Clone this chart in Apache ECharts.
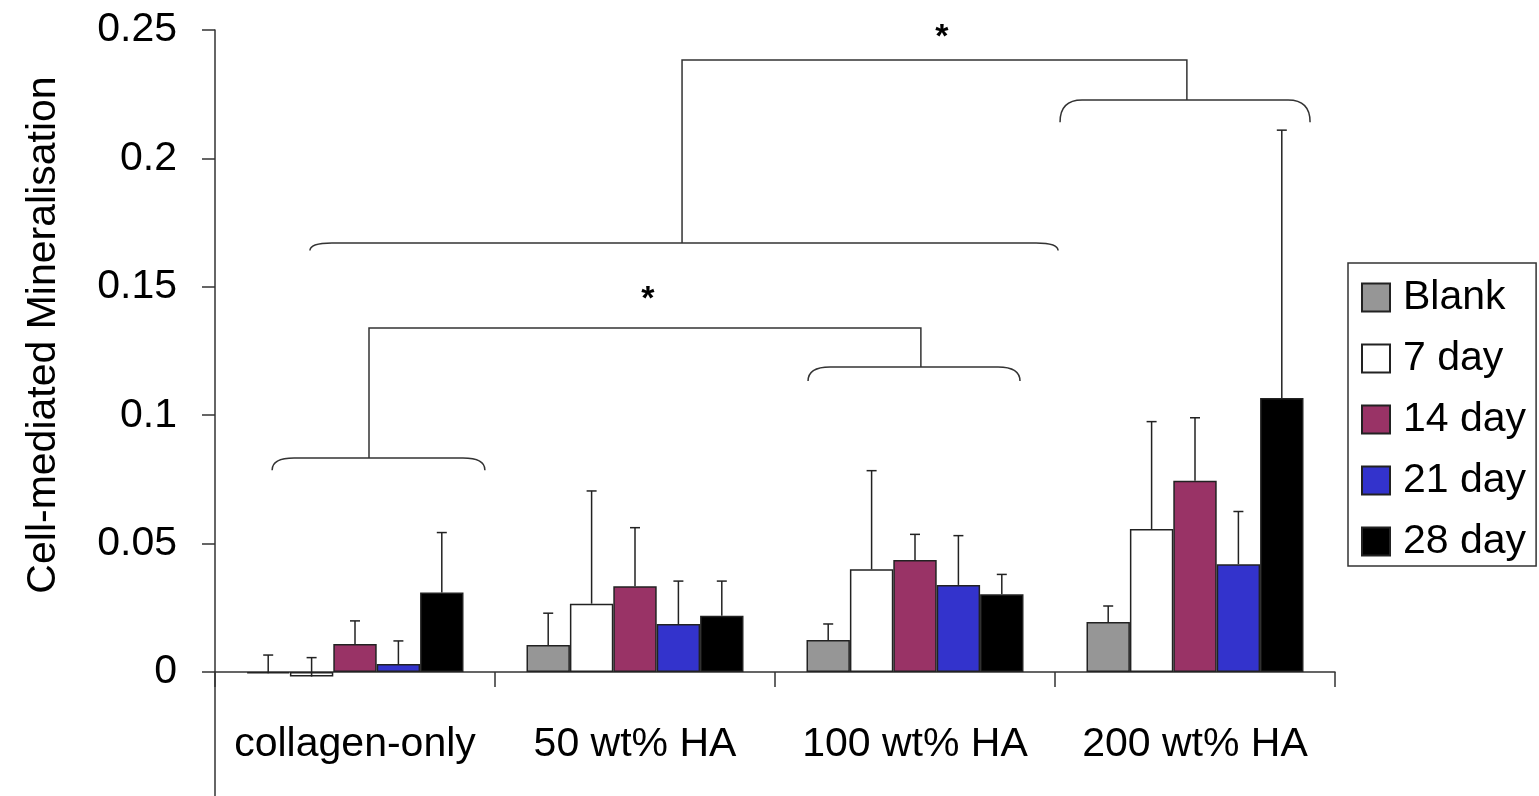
<!DOCTYPE html>
<html>
<head>
<meta charset="utf-8">
<script src="https://cdn.jsdelivr.net/npm/echarts@6/dist/echarts.min.js"></script>
<style>
  html, body { margin: 0; padding: 0; background: #fff; }
  #chart { width: 1539px; height: 796px; }
</style>
</head>
<body>
<div id="chart"></div>
<script>
// data
const categories = ['collagen-only', '50 wt% HA', '100 wt% HA', '200 wt% HA']
const seriesNames = ['Blank', '7 day', '14 day', '21 day', '28 day']
const blankValues = [-0.0005, 0.0105, 0.0125, 0.0195]
const day7Values = [-0.0018, 0.0266, 0.040, 0.0557]
const day14Values = [0.0109, 0.0334, 0.0436, 0.0745]
const day21Values = [0.0031, 0.0187, 0.0339, 0.042]
const day28Values = [0.031, 0.0219, 0.0303, 0.1067]
// upper error (stdev) of each bar
const blankErr = [0.0071, 0.0124, 0.0062, 0.0062]
const day7Err = [0.0074, 0.0439, 0.0384, 0.0418]
const day14Err = [0.009, 0.0228, 0.01, 0.0245]
const day21Err = [0.009, 0.0167, 0.0192, 0.0205]
const day28Err = [0.0233, 0.0135, 0.0077, 0.1043]

// significance brackets, in axis units (category index, value)
// [xStart, xEnd, yTop, drop of the ends]
const braces = [
  [-0.296, 0.464, 0.0833, 0.0047],
  [1.618, 2.375, 0.1188, 0.0055],
  [-0.161, 2.511, 0.1671, 0.003],
  [2.518, 3.411, 0.2227, 0.0086],
]
// [xFrom, yFrom, xTo, yTo, yTop]
const links = [
  [0.05, 0.0833, 2.021, 0.1188, 0.134],
  [1.168, 0.1671, 2.971, 0.2227, 0.2383],
]
const stars = [[1.046, 0.145], [2.096, 0.247]]

const FONT = "'Liberation Sans', Arial, sans-serif"
const LINE = '#333'
const colors = ['#969696', '#ffffff', '#993366', '#3333cc', '#000000']
const values = [blankValues, day7Values, day14Values, day21Values, day28Values]
const errs = [blankErr, day7Err, day14Err, day21Err, day28Err]
const GAP = 0.225

const errData = []
values.forEach((vals, s) => {
  vals.forEach((v, i) => errData.push([i, v, errs[s][i], s]))
})

function renderErr(params, api) {
  const cat = api.value(0)
  const v = api.value(1)
  const e = api.value(2)
  const s = api.value(3)
  const band = api.size([1, 0])[0]
  const group = band * (1 - GAP)
  const bw = group / seriesNames.length
  const base = api.coord([cat, v])
  const top = api.coord([cat, v + e])
  const x = base[0] - group / 2 + bw * (s + 0.5)
  const st = { stroke: '#222', lineWidth: 1.5 }
  return {
    type: 'group',
    children: [
      { type: 'line', shape: { x1: x, y1: base[1], x2: x, y2: top[1] }, style: st },
      { type: 'line', shape: { x1: x - 5, y1: top[1], x2: x + 5, y2: top[1] }, style: st },
    ],
  }
}

function renderBrace(params, api) {
  const a = api.coord([api.value(0), api.value(2) - api.value(3)])
  const b = api.coord([api.value(1), api.value(2)])
  const yEnd = a[1]
  const yTop = b[1]
  const x0 = a[0]
  const x1 = b[0]
  const r = 22
  const d = 'M' + x0 + ' ' + yEnd + ' Q' + x0 + ' ' + yTop + ' ' + (x0 + r) + ' ' + yTop +
    ' L' + (x1 - r) + ' ' + yTop + ' Q' + x1 + ' ' + yTop + ' ' + x1 + ' ' + yEnd
  return { type: 'path', shape: { pathData: d }, style: { stroke: LINE, lineWidth: 1.5, fill: null } }
}

function renderLink(params, api) {
  const p0 = api.coord([api.value(0), api.value(1)])
  const p1 = api.coord([api.value(0), api.value(4)])
  const p2 = api.coord([api.value(2), api.value(4)])
  const p3 = api.coord([api.value(2), api.value(3)])
  return { type: 'polyline', shape: { points: [p0, p1, p2, p3] }, style: { stroke: LINE, lineWidth: 1.5, fill: null } }
}

function renderStar(params, api) {
  const p = api.coord([api.value(0), api.value(1)])
  return {
    type: 'text',
    x: p[0], y: p[1],
    style: { text: '*', fontSize: 34, fontWeight: 'bold', fontFamily: FONT, fill: '#000', align: 'center', verticalAlign: 'middle' },
  }
}

const barSeries = seriesNames.map((name, s) => ({
  name: name,
  type: 'bar',
  data: values[s],
  barGap: 0,
  barCategoryGap: GAP * 100 + '%',
  clip: false,
  itemStyle: { color: colors[s], borderColor: '#222', borderWidth: 1.5 },
}))

const option = {
  animation: false,
  backgroundColor: '#fff',
  grid: [
    // main plot, bottom edge at y = 0
    { left: 215, right: 204, top: 30, bottom: 124, outerBoundsMode: 'none', containLabel: false },
    // empty strip below zero, only carries the y axis line down to the edge
    { left: 215, right: 204, top: 672, bottom: 0, outerBoundsMode: 'none', containLabel: false },
  ],
  legend: {
    data: seriesNames,
    orient: 'vertical',
    left: 1348,
    top: 263,
    icon: 'rect',
    itemWidth: 28,
    itemHeight: 28,
    itemGap: 20,
    padding: [14, 10, 4, 13],
    borderColor: LINE,
    borderWidth: 1.5,
    textStyle: { fontSize: 41, fontFamily: FONT, color: '#000', padding: [0, 0, 0, 8] },
  },
  xAxis: [
    {
      type: 'category',
      gridIndex: 0,
      data: categories,
      z: 1,
      axisLine: { onZero: false, lineStyle: { color: LINE, width: 1.5 } },
      axisTick: { show: true, alignWithLabel: false, length: 15, interval: 0, lineStyle: { color: LINE, width: 1.5 } },
      axisLabel: { interval: 0, hideOverlap: false, fontSize: 41, fontFamily: FONT, color: '#000', margin: 52 },
    },
    { type: 'value', gridIndex: 0, min: -0.5, max: 3.5, show: false },
    { type: 'category', gridIndex: 1, data: categories, show: false },
  ],
  yAxis: [
    {
      type: 'value',
      gridIndex: 0,
      min: 0,
      max: 0.25,
      interval: 0.05,
      splitLine: { show: false },
      axisLine: { show: true, onZero: false, lineStyle: { color: LINE, width: 1.5 } },
      axisTick: { show: true, length: 13, lineStyle: { color: LINE, width: 1.5 } },
      axisLabel: { fontSize: 41, fontFamily: FONT, color: '#000', margin: 38 },
    },
    {
      type: 'value',
      gridIndex: 1,
      splitLine: { show: false },
      axisLine: { show: true, onZero: false, lineStyle: { color: LINE, width: 1.5 } },
      axisTick: { show: false },
      axisLabel: { show: false },
    },
  ],
  graphic: [
    {
      type: 'text',
      x: 44,
      y: 335,
      rotation: Math.PI / 2,
      style: { text: 'Cell-mediated Mineralisation', fontSize: 41, fontFamily: FONT, fill: '#000', align: 'center', verticalAlign: 'middle' },
    },
  ],
  series: barSeries.concat([
    { type: 'custom', name: 'err', renderItem: renderErr, data: errData, encode: { x: 0, y: 1 }, z: 5, clip: false, silent: true },
    { type: 'custom', name: 'braces', xAxisIndex: 1, renderItem: renderBrace, data: braces, encode: { x: [0, 1], y: 2 }, z: 5, clip: false, silent: true },
    { type: 'custom', name: 'links', xAxisIndex: 1, renderItem: renderLink, data: links, encode: { x: [0, 2], y: [1, 4] }, z: 5, clip: false, silent: true },
    { type: 'custom', name: 'stars', xAxisIndex: 1, renderItem: renderStar, data: stars, encode: { x: 0, y: 1 }, z: 5, clip: false, silent: true },
  ]),
}

const mychart = echarts.init(document.getElementById('chart'))
mychart.setOption(option)
</script>
</body>
</html>
